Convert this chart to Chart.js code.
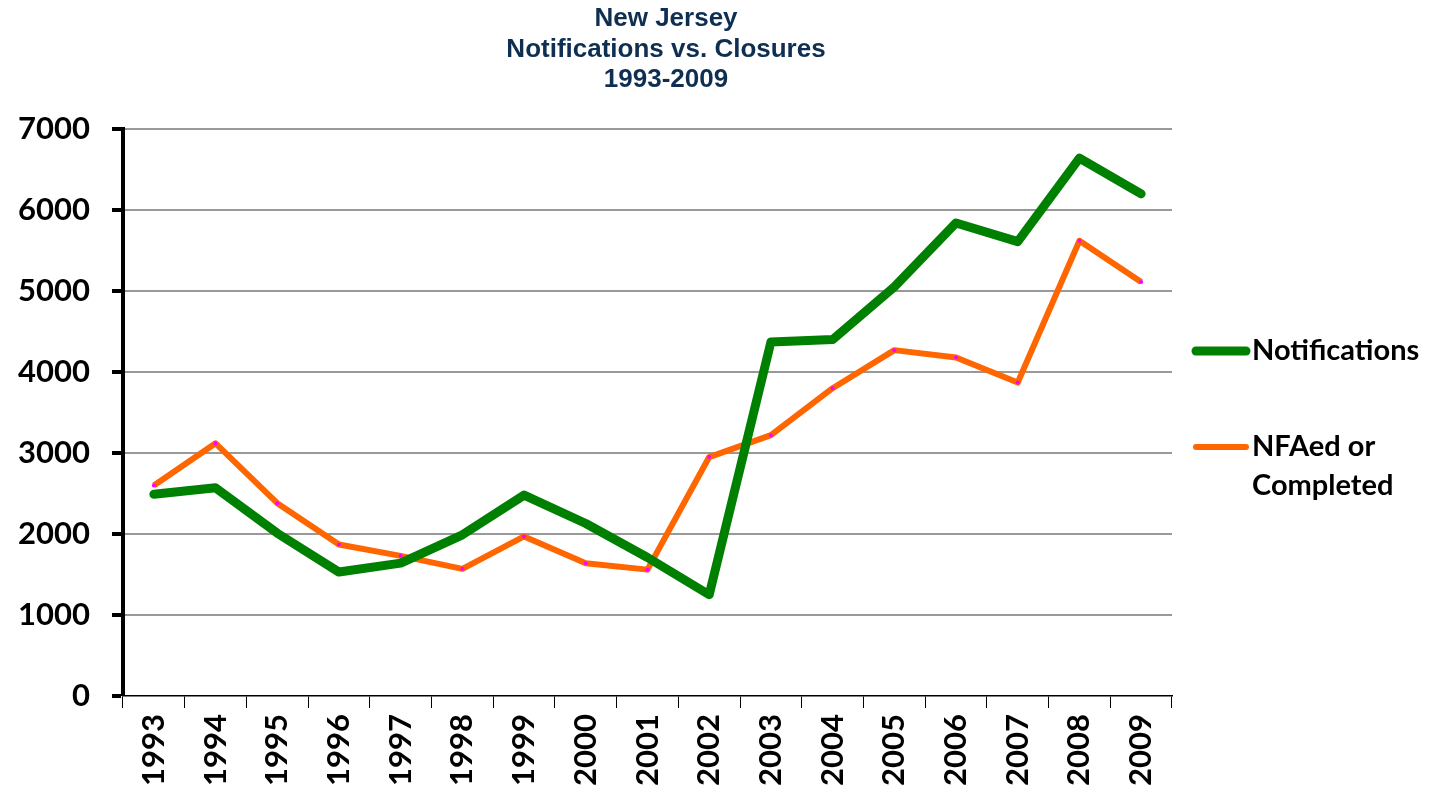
<!DOCTYPE html>
<html>
<head>
<meta charset="utf-8">
<script src="https://cdn.jsdelivr.net/npm/chart.js@4/dist/chart.umd.min.js"></script>
<style>
  html, body { margin: 0; padding: 0; background: #fff; }
  #wrap { width: 1433px; height: 798px; }
</style>
</head>
<body>
<div id="wrap"><canvas id="nj-chart"></canvas></div>
<script>
const years = ["1993", "1994", "1995", "1996", "1997", "1998", "1999", "2000", "2001",
  "2002", "2003", "2004", "2005", "2006", "2007", "2008", "2009"];
const notifications = [2490, 2570, 2010, 1530, 1640, 1990, 2480, 2130, 1710,
  1250, 4370, 4400, 5050, 5840, 5610, 6640, 6200];
const closures = [2600, 3120, 2380, 1870, 1730, 1570, 1970, 1640, 1560,
  2950, 3220, 3800, 4270, 4180, 3870, 5620, 5110];
const titleLines = ["New Jersey", "Notifications vs. Closures", "1993-2009"];
const legendLabels = [["Notifications"], ["NFAed or", "Completed"]];

const tickFont = { family: "Lato", size: 31, weight: "bold" };

// title and legend drawn by hand: title is centred on the page, legend text wraps
const annotations = {
  id: "annotations",
  afterDraw(chart) {
    const c = chart.ctx;
    c.save();
    c.textAlign = "center";
    c.textBaseline = "middle";
    c.fillStyle = "#0f2f52";
    c.font = "bold 26px 'Liberation Sans'";
    titleLines.forEach((t, i) => c.fillText(t, 666, 19 + i * 30.5));

    const rows = [
      { y: 351, color: "#008000", width: 9 },
      { y: 447, color: "#ff6600", width: 6 },
    ];
    c.textAlign = "left";
    c.font = "bold 29px Lato";
    c.fillStyle = "#000";
    rows.forEach((r, i) => {
      c.beginPath();
      c.strokeStyle = r.color;
      c.lineWidth = r.width;
      c.lineCap = "round";
      c.moveTo(1196, r.y);
      c.lineTo(1246, r.y);
      c.stroke();
      legendLabels[i].forEach((t, j) => c.fillText(t, 1252, r.y + j * 39));
    });
    c.restore();
  },
};

new Chart(document.getElementById("nj-chart").getContext("2d"), {
  type: "line",
  data: {
    labels: years,
    datasets: [
      {
        label: "Notifications",
        data: notifications,
        borderColor: "#008000",
        borderWidth: 9,
        pointRadius: 0,
        borderCapStyle: "round",
        borderJoinStyle: "round",
        tension: 0,
      },
      {
        label: "NFAed or Completed",
        data: closures,
        borderColor: "#ff6600",
        borderWidth: 6,
        pointRadius: 2,
        pointBorderWidth: 0,
        pointBackgroundColor: "#ff00ff",
        borderJoinStyle: "round",
        tension: 0,
      },
    ],
  },
  options: {
    responsive: true,
    maintainAspectRatio: false,
    animation: false,
    layout: { padding: { top: 129, right: 261, left: 0, bottom: 0 } },
    plugins: {
      legend: { display: false },
      tooltip: { enabled: false },
      title: { display: false },
    },
    scales: {
      x: {
        offset: true,
        afterFit(scale) { scale.height = 102; },
        grid: {
          offset: true,
          drawOnChartArea: false,
          drawTicks: true,
          tickLength: 12,
          tickColor: "#000",
          tickWidth: 1,
        },
        border: { color: "#000", width: 1.5 },
        ticks: {
          color: "#000",
          font: tickFont,
          maxRotation: 90,
          minRotation: 90,
          padding: 6,
          autoSkip: false,
        },
      },
      y: {
        min: 0,
        max: 7000,
        afterFit(scale) { scale.width = 123; },
        grid: {
          color: "#999999",
          lineWidth: (ctx) => (ctx.tick && ctx.tick.value === 0 ? 0 : 2),
          tickColor: "#000",
          tickLength: 11,
          tickWidth: 4,
        },
        border: { color: "#000", width: 4 },
        ticks: {
          stepSize: 1000,
          color: "#000",
          font: tickFont,
          padding: 22,
          callback: (v) => String(v),
        },
      },
    },
  },
  plugins: [annotations],
});
</script>
</body>
</html>
